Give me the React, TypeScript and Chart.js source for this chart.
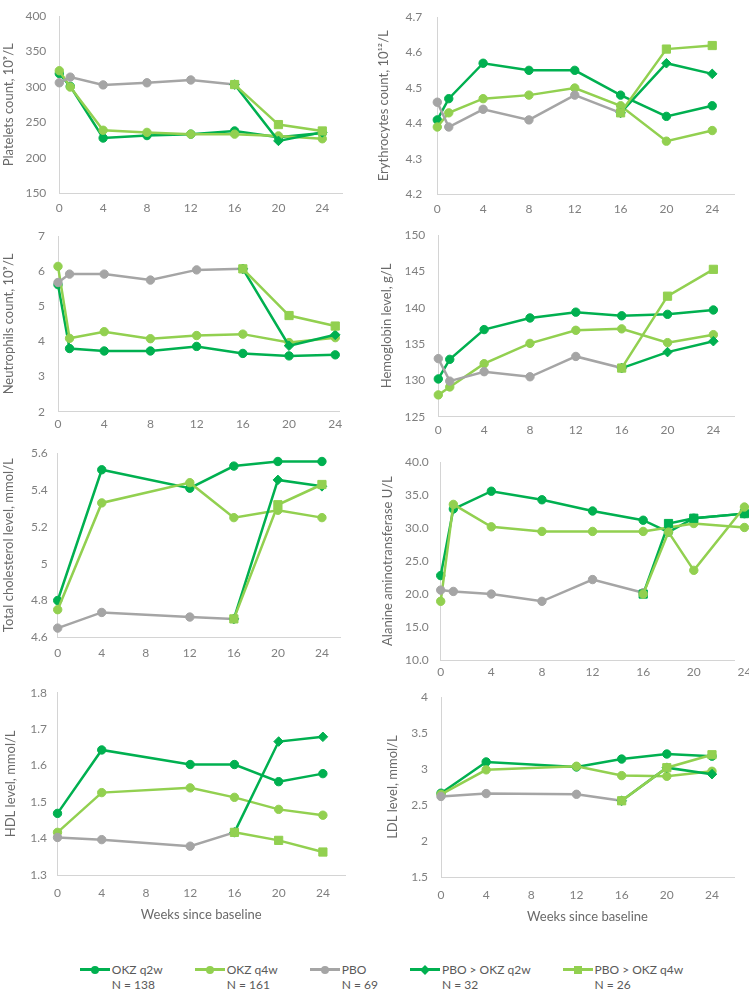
import React, { useEffect, useRef } from 'react';
import { Chart, registerables } from 'chart.js';

Chart.register(...registerables);
Chart.defaults.font.family = "Lato, 'Open Sans', 'DejaVu Sans', sans-serif";

// ---------- categories / ticks ----------
const weeksMain = [0, 1, 4, 8, 12, 16, 20, 24];
const weeksMainPbo = [0, 1, 4, 8, 12, 16];
const weeksLipid = [0, 4, 12, 16, 20, 24];
const weeksLipidPbo = [0, 4, 12, 16];
const weeksSwitch = [16, 20, 24];
const weeksAltQ2w = [0, 1, 4, 8, 12, 16, 18, 20, 24];
const weeksAltQ4w = [0, 1, 4, 8, 12, 16, 20, 24];
const weeksAltPbo = [0, 1, 4, 8, 12, 16];
const weeksAltSwitch = [16, 18, 20, 24];
const weekTicks = [0, 4, 8, 12, 16, 20, 24];

const seriesNames = ['OKZ q2w', 'OKZ q4w', 'PBO', 'PBO > OKZ q2w', 'PBO > OKZ q4w'];
const seriesCounts = ['N = 138', 'N = 161', 'N = 69', 'N = 32', 'N = 26'];

// ---------- values ----------
const plateletsQ2w = [319, 301, 228, 231.5, 233.5, 238, 229, 235];
const plateletsQ4w = [323, 300, 239, 236, 233.5, 233.5, 231, 227];
const plateletsPbo = [306, 314, 303, 306, 310, 303.5];
const plateletsSwQ2w = [303.5, 224, 236];
const plateletsSwQ4w = [303.5, 247, 238];
const plateletsTicks = [150, 200, 250, 300, 350, 400];

const erythQ2w = [4.41, 4.47, 4.57, 4.55, 4.55, 4.48, 4.42, 4.45];
const erythQ4w = [4.39, 4.43, 4.47, 4.48, 4.5, 4.45, 4.35, 4.38];
const erythPbo = [4.46, 4.39, 4.44, 4.41, 4.48, 4.43];
const erythSwQ2w = [4.43, 4.57, 4.54];
const erythSwQ4w = [4.43, 4.61, 4.62];
const erythTicks = [4.2, 4.3, 4.4, 4.5, 4.6, 4.7];

const neutroQ2w = [5.62, 3.8, 3.73, 3.73, 3.86, 3.66, 3.59, 3.62];
const neutroQ4w = [6.14, 4.09, 4.28, 4.08, 4.17, 4.21, 3.97, 4.11];
const neutroPbo = [5.68, 5.92, 5.92, 5.75, 6.04, 6.07];
const neutroSwQ2w = [6.07, 3.88, 4.19];
const neutroSwQ4w = [6.07, 4.74, 4.44];
const neutroTicks = [2, 3, 4, 5, 6, 7];

const hemoQ2w = [130.2, 132.9, 137.0, 138.6, 139.4, 138.9, 139.1, 139.7];
const hemoQ4w = [128.0, 129.1, 132.3, 135.1, 136.9, 137.1, 135.2, 136.3];
const hemoPbo = [133.0, 129.9, 131.2, 130.5, 133.3, 131.7];
const hemoSwQ2w = [131.7, 133.9, 135.4];
const hemoSwQ4w = [131.7, 141.6, 145.3];
const hemoTicks = [125, 130, 135, 140, 145, 150];

const cholQ2w = [4.8, 5.51, 5.41, 5.53, 5.555, 5.555];
const cholQ4w = [4.75, 5.33, 5.44, 5.25, 5.29, 5.25];
const cholPbo = [4.65, 4.735, 4.71, 4.7];
const cholSwQ2w = [4.7, 5.455, 5.42];
const cholSwQ4w = [4.7, 5.32, 5.43];
const cholTicks = [4.6, 4.8, 5, 5.2, 5.4, 5.6];

const altQ2w = [22.8, 32.9, 35.6, 34.3, 32.6, 31.2, 29.4, 31.5, 32.2];
const altQ4w = [18.9, 33.6, 30.2, 29.5, 29.5, 29.5, 30.7, 30.1];
const altPbo = [20.6, 20.4, 20.0, 18.9, 22.2, 20.2];
const altSwQ2w = [20.0, 30.7, 31.5, 32.2];
const altSwQ4w = [20.0, 29.4, 23.6, 33.2];
const altTicks = [10, 15, 20, 25, 30, 35, 40];

const hdlQ2w = [1.469, 1.643, 1.603, 1.603, 1.556, 1.578];
const hdlQ4w = [1.417, 1.526, 1.539, 1.513, 1.48, 1.464];
const hdlPbo = [1.403, 1.397, 1.379, 1.417];
const hdlSwQ2w = [1.417, 1.666, 1.679];
const hdlSwQ4w = [1.417, 1.395, 1.363];
const hdlTicks = [1.3, 1.4, 1.5, 1.6, 1.7, 1.8];

const ldlQ2w = [2.665, 3.1, 3.03, 3.14, 3.21, 3.18];
const ldlQ4w = [2.65, 2.99, 3.04, 2.91, 2.9, 2.97];
const ldlPbo = [2.62, 2.66, 2.65, 2.56];
const ldlSwQ2w = [2.56, 3.02, 2.93];
const ldlSwQ4w = [2.56, 3.02, 3.2];
const ldlTicks = [1.5, 2, 2.5, 3, 3.5, 4];

// ---------- styles ----------
type Marker = 'circle' | 'rect' | 'rectRot';
const seriesColors = ['#00B050', '#92D050', '#A5A5A5', '#00B050', '#92D050'];
const seriesMarkers: Marker[] = ['circle', 'circle', 'circle', 'rectRot', 'rect'];
const markerRadius: Record<Marker, number> = { circle: 4.2, rect: 5.8, rectRot: 4.8 };
const AXIS_COLOR = '#d4d4d4';
const TICK_COLOR = '#7f7f7f';
const TITLE_COLOR = '#6a6a6a';
const PAD_TOP = 10;
const PAD_RIGHT = 30;
const XH = 30;
const XH_TITLE = 48;

interface Series { x: number[]; y: number[] }
interface PanelSpec {
  title: string;
  yTicks: number[];
  yFixed?: number;
  xMax: number;
  series: Series[];
  area: [number, number, number, number];
  col: number;
  yTitlePad: number;
  yTickPad: number;
  xTickPad: number;
  xTitle?: string;
  overflow?: boolean;
  markers?: Marker[];
}

const panels: PanelSpec[] = [
  {
    title: 'Platelets count, 10⁹/L', yTicks: plateletsTicks, xMax: 25.8,
    series: [
      { x: weeksMain, y: plateletsQ2w }, { x: weeksMain, y: plateletsQ4w }, { x: weeksMainPbo, y: plateletsPbo },
      { x: weeksSwitch, y: plateletsSwQ2w }, { x: weeksSwitch, y: plateletsSwQ4w },
    ],
    area: [59.3, 6.7, 342, 193.3], col: 0, yTitlePad: 1.2, yTickPad: 13, xTickPad: 8,
  },
  {
    title: 'Erythrocytes count, 10¹²/L', yTicks: erythTicks, xMax: 25.9,
    series: [
      { x: weeksMain, y: erythQ2w }, { x: weeksMain, y: erythQ4w }, { x: weeksMainPbo, y: erythPbo },
      { x: weeksSwitch, y: erythSwQ2w }, { x: weeksSwitch, y: erythSwQ4w },
    ],
    area: [437.3, 5, 734, 194.3], col: 375, yTitlePad: 1.2, yTickPad: 15, xTickPad: 7.5,
  },
  {
    title: 'Neutrophils count, 10⁹/L', yTicks: neutroTicks, xMax: 24.35,
    series: [
      { x: weeksMain, y: neutroQ2w }, { x: weeksMain, y: neutroQ4w }, { x: weeksMainPbo, y: neutroPbo },
      { x: weeksSwitch, y: neutroSwQ2w }, { x: weeksSwitch, y: neutroSwQ4w },
    ],
    area: [58, 226, 339.3, 411.7], col: 0, yTitlePad: 1.2, yTickPad: 13, xTickPad: 5,
  },
  {
    title: 'Hemoglobin level, g/L', yTicks: hemoTicks, xMax: 25.8,
    series: [
      { x: weeksMain, y: hemoQ2w }, { x: weeksMain, y: hemoQ4w }, { x: weeksMainPbo, y: hemoPbo },
      { x: weeksSwitch, y: hemoSwQ2w }, { x: weeksSwitch, y: hemoSwQ4w },
    ],
    area: [438.3, 225, 734, 416.7], col: 375, yTitlePad: 4.2, yTickPad: 13, xTickPad: 6,
  },
  {
    title: 'Total cholesterol level, mmol/L', yTicks: cholTicks, xMax: 25.64,
    series: [
      { x: weeksLipid, y: cholQ2w }, { x: weeksLipid, y: cholQ4w }, { x: weeksLipidPbo, y: cholPbo },
      { x: weeksSwitch, y: cholSwQ2w }, { x: weeksSwitch, y: cholSwQ4w },
    ],
    area: [57.7, 446, 340, 637.3], col: 0, yTitlePad: 0.7, yTickPad: 10, xTickPad: 8.5,
  },
  {
    title: 'Alanine aminotransferase U/L', yTicks: altTicks, yFixed: 1, xMax: 23.2,
    series: [
      { x: weeksAltQ2w, y: altQ2w }, { x: weeksAltQ4w, y: altQ4w }, { x: weeksAltPbo, y: altPbo },
      { x: weeksAltSwitch, y: altSwQ2w }, { x: weeksAltSwitch, y: altSwQ4w },
    ],
    area: [440.7, 453.3, 734.3, 660], col: 375, yTitlePad: 5.2, yTickPad: 12, xTickPad: 4.8,
    overflow: true, markers: ['circle', 'circle', 'circle', 'rect', 'circle'],
  },
  {
    title: 'HDL level, mmol/L', yTicks: hdlTicks, xMax: 26,
    series: [
      { x: weeksLipid, y: hdlQ2w }, { x: weeksLipid, y: hdlQ4w }, { x: weeksLipidPbo, y: hdlPbo },
      { x: weeksSwitch, y: hdlSwQ2w }, { x: weeksSwitch, y: hdlSwQ4w },
    ],
    area: [57.5, 685, 345, 875], col: 0, yTitlePad: 3.2, yTickPad: 10.5, xTickPad: 10.8,
    xTitle: 'Weeks since baseline',
  },
  {
    title: 'LDL level, mmol/L', yTicks: ldlTicks, xMax: 25.95,
    series: [
      { x: weeksLipid, y: ldlQ2w }, { x: weeksLipid, y: ldlQ4w }, { x: weeksLipidPbo, y: ldlPbo },
      { x: weeksSwitch, y: ldlSwQ2w }, { x: weeksSwitch, y: ldlSwQ4w },
    ],
    area: [441, 687, 734, 877], col: 375, yTitlePad: 10.2, yTickPad: 13, xTickPad: 10.8,
    xTitle: 'Weeks since baseline',
  },
];

// lets the last points of a panel sit past the end of its x axis
const overflowPlugin = {
  id: 'overflowPoints',
  beforeDatasetsDraw(chart: any) {
    chart.$savedRight = chart.chartArea.right;
    chart.chartArea.right = chart.width;
  },
  afterDatasetsDraw(chart: any) {
    chart.chartArea.right = chart.$savedRight;
  },
};

function Panel({ spec }: { spec: PanelSpec }) {
  const ref = useRef<HTMLCanvasElement>(null);
  const [l, t, r, b] = spec.area;
  const xh = spec.xTitle ? XH_TITLE : XH;
  const top = Math.floor(t - PAD_TOP);
  const width = Math.ceil(r + PAD_RIGHT - spec.col);
  const height = Math.ceil(b - top + xh);
  const yw = l - spec.col;

  useEffect(() => {
    const markers = spec.markers || seriesMarkers;
    const datasets = spec.series.map((s, i) => ({
      label: seriesNames[i],
      data: s.x.map((x, j) => ({ x, y: s.y[j] })),
      borderColor: seriesColors[i],
      backgroundColor: seriesColors[i],
      borderWidth: 2.5,
      pointStyle: markers[i],
      pointRadius: markerRadius[markers[i]],
      pointBorderWidth: 1,
      pointBorderColor: seriesColors[i],
      pointBackgroundColor: seriesColors[i],
      tension: 0,
      clip: false as any,
      order: 10 - i,
    }));
    const fmt = (v: number) =>
      spec.yFixed != null ? v.toFixed(spec.yFixed) : String(Math.round(v * 1000) / 1000);
    const chart = new Chart(ref.current as HTMLCanvasElement, {
      type: 'line',
      data: { datasets },
      plugins: spec.overflow ? [overflowPlugin] : [],
      options: {
        animation: false,
        responsive: false,
        events: [],
        layout: {
          padding: {
            left: 0,
            top: t - top,
            right: width - (r - spec.col),
            bottom: height - (b - top) - xh,
          },
        },
        plugins: { legend: { display: false }, tooltip: { enabled: false } },
        scales: {
          x: {
            type: 'linear',
            min: 0,
            max: spec.xMax,
            grid: { display: false, drawTicks: false },
            border: { display: true, color: AXIS_COLOR, width: 1 },
            ticks: {
              color: TICK_COLOR,
              font: { size: 12 },
              padding: spec.xTickPad,
              autoSkip: false,
              maxRotation: 0,
              callback: (v: any) => String(v),
            },
            afterBuildTicks: (ax: any) => {
              ax.ticks = weekTicks.map((v) => ({ value: v }));
            },
            afterFit: (ax: any) => {
              ax.height = xh;
            },
            title: spec.xTitle
              ? {
                  display: true,
                  text: spec.xTitle,
                  color: TITLE_COLOR,
                  font: { size: 13 },
                  padding: { top: 0, bottom: 0 },
                }
              : { display: false },
          },
          y: {
            type: 'linear',
            min: spec.yTicks[0],
            max: spec.yTicks[spec.yTicks.length - 1],
            grid: { display: false, drawTicks: false },
            border: { display: true, color: AXIS_COLOR, width: 1 },
            ticks: {
              color: TICK_COLOR,
              font: { size: 12 },
              padding: spec.yTickPad,
              callback: (v: any) => fmt(Number(v)),
            },
            afterBuildTicks: (ax: any) => {
              ax.ticks = spec.yTicks.map((v) => ({ value: v }));
            },
            afterFit: (ax: any) => {
              ax.width = yw;
            },
            title: {
              display: true,
              text: spec.title,
              color: TITLE_COLOR,
              font: { size: 13 },
              padding: { top: spec.yTitlePad, bottom: 0 },
            },
          },
        },
      } as any,
    });
    return () => chart.destroy();
  }, []);

  return (
    <canvas
      ref={ref}
      width={width}
      height={height}
      style={{ position: 'absolute', left: spec.col, top, width, height }}
    />
  );
}

function LegendIcon({ color, marker }: { color: string; marker: Marker }) {
  const base: React.CSSProperties = { position: 'absolute', left: '50%', top: '50%', background: color };
  const shape: React.CSSProperties =
    marker === 'circle'
      ? { width: 8, height: 8, borderRadius: '50%', transform: 'translate(-50%,-50%)' }
      : marker === 'rect'
      ? { width: 8, height: 8, transform: 'translate(-50%,-50%)' }
      : { width: 7, height: 7, transform: 'translate(-50%,-50%) rotate(45deg)' };
  return (
    <span style={{ position: 'relative', display: 'inline-block', width: 30, height: 15, flex: 'none' }}>
      <span style={{ position: 'absolute', left: 0, right: 0, top: 6.25, height: 2.5, background: color }} />
      <span style={{ ...base, ...shape }} />
    </span>
  );
}

export default function App() {
  return (
    <div
      style={{
        position: 'absolute',
        left: 0,
        top: 0,
        width: 749,
        height: 990,
        overflow: 'hidden',
        background: '#ffffff',
      }}
    >
      {panels.map((p, i) => (
        <Panel key={i} spec={p} />
      ))}
      <div
        style={{
          position: 'absolute',
          left: 14,
          width: 735,
          top: 962,
          display: 'flex',
          justifyContent: 'center',
          gap: 32,
          fontFamily: "Lato, 'Open Sans', sans-serif",
          fontSize: 12,
          lineHeight: '15px',
          color: '#595959',
          whiteSpace: 'nowrap',
        }}
      >
        {seriesNames.map((n, i) => (
          <div key={i} style={{ display: 'flex', alignItems: 'flex-start', gap: 2 }}>
            <LegendIcon color={seriesColors[i]} marker={seriesMarkers[i]} />
            <div>
              <div>{n}</div>
              <div>{seriesCounts[i]}</div>
            </div>
          </div>
        ))}
      </div>
    </div>
  );
}
